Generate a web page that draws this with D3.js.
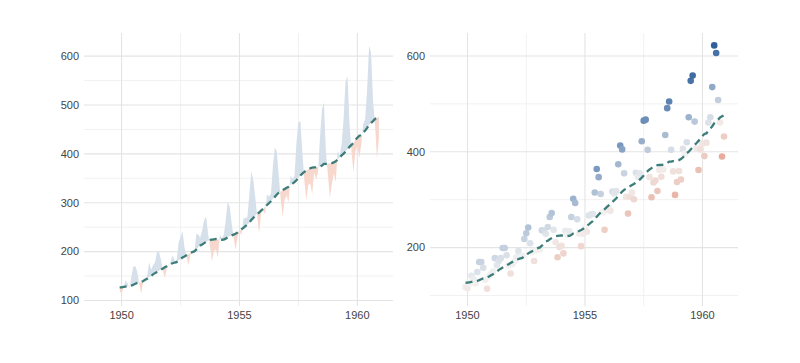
<!DOCTYPE html>
<html lang="en">
<head>
<meta charset="UTF-8">
<script src="https://cdn.jsdelivr.net/npm/d3@7/dist/d3.min.js"></script>
<title>Air passengers</title>
<style>
  body { margin: 0; background: #fff; }
  text { font-family: "Liberation Sans", Arial, sans-serif; }
</style>
</head>
<body>
<svg id="mainsvg" width="800" height="363"></svg>
<script>
// monthly passengers, Jan 1949 .. Dec 1960
const startYear = 1949
const passengers = [
  112, 118, 132, 129, 121, 135, 148, 148, 136, 119, 104, 118,
  115, 126, 141, 135, 125, 149, 170, 170, 158, 133, 114, 140,
  145, 150, 178, 163, 172, 178, 199, 199, 184, 162, 146, 166,
  171, 180, 193, 181, 183, 218, 230, 242, 209, 191, 172, 194,
  196, 196, 236, 235, 229, 243, 264, 272, 237, 211, 180, 201,
  204, 188, 235, 227, 234, 264, 302, 293, 259, 229, 203, 229,
  242, 233, 267, 269, 270, 315, 364, 347, 312, 274, 237, 278,
  284, 277, 317, 313, 318, 374, 413, 405, 355, 306, 271, 306,
  315, 301, 356, 348, 355, 422, 465, 467, 404, 347, 305, 336,
  340, 318, 362, 348, 363, 435, 491, 505, 404, 359, 310, 337,
  360, 342, 406, 396, 420, 472, 548, 559, 463, 407, 362, 405,
  417, 391, 419, 461, 472, 535, 622, 606, 508, 461, 390, 432
]
const xTicks = [1950, 1955, 1960]
const xMinor = [1952.5, 1957.5]
const leftYTicks = [100, 200, 300, 400, 500, 600]
const leftYMinor = [150, 250, 350, 450, 550]
const rightYTicks = [200, 400, 600]
const rightYMinor = [100, 300, 500]

// 12 month trailing mean
const rows = passengers.map((v, i) => ({
  t: startYear + i / 12,
  value: v,
  trend: i >= 11 ? d3.mean(passengers.slice(i - 11, i + 1)) : null
}))
const data = rows.filter(d => d.trend !== null)

const svg = d3.select('#mainsvg')
const panelTop = 33, panelBottom = 306
const panels = [
  { left: 84, right: 393, yDomain: [88.6, 647.4], ticks: leftYTicks, minor: leftYMinor },
  { left: 430, right: 738, yDomain: [78.1, 647.9], ticks: rightYTicks, minor: rightYMinor }
]
const trendColor = '#3c7d7a'
const gridMajor = '#e4e4e4'
const gridMinor = '#eeeeee'

panels.forEach((p, k) => {
  p.x = d3.scaleLinear().domain([1948.404, 1961.513]).range([p.left, p.right])
  p.y = d3.scaleLinear().domain(p.yDomain).range([panelBottom, panelTop])
  const g = svg.append('g')

  // grid
  g.selectAll('.hmin').data(p.minor).join('line')
    .attr('x1', p.left).attr('x2', p.right)
    .attr('y1', d => p.y(d)).attr('y2', d => p.y(d))
    .attr('stroke', gridMinor).attr('stroke-width', 0.8)
  g.selectAll('.vmin').data(xMinor).join('line')
    .attr('y1', panelTop).attr('y2', panelBottom)
    .attr('x1', d => p.x(d)).attr('x2', d => p.x(d))
    .attr('stroke', gridMinor).attr('stroke-width', 0.8)
  g.selectAll('.hmaj').data(p.ticks).join('line')
    .attr('x1', p.left).attr('x2', p.right)
    .attr('y1', d => p.y(d)).attr('y2', d => p.y(d))
    .attr('stroke', gridMajor).attr('stroke-width', 1.1)
  g.selectAll('.vmaj').data(xTicks).join('line')
    .attr('y1', panelTop).attr('y2', panelBottom)
    .attr('x1', d => p.x(d)).attr('x2', d => p.x(d))
    .attr('stroke', gridMajor).attr('stroke-width', 1.1)

  // tick labels
  g.selectAll('.ylab').data(p.ticks).join('text')
    .attr('x', p.left - 5).attr('y', d => p.y(d)).attr('dy', '0.35em')
    .attr('text-anchor', 'end').attr('font-size', 11).attr('fill', '#444')
    .text(d => d)
  g.selectAll('.xlab').data(xTicks).join('text')
    .attr('x', d => p.x(d)).attr('y', 318.5)
    .attr('text-anchor', 'middle').attr('font-size', 11).attr('fill', '#444')
    .text(d => d)
})

// left panel: ribbon between series and trend
const L = panels[0]
const defs = svg.append('defs')
defs.append('clipPath').attr('id', 'above').append('path')
  .attr('d', d3.area().x(d => L.x(d.t)).y0(panelTop - 5).y1(d => L.y(d.trend))(data))
defs.append('clipPath').attr('id', 'below').append('path')
  .attr('d', d3.area().x(d => L.x(d.t)).y0(panelBottom + 5).y1(d => L.y(d.trend))(data))
const ribbon = d3.area().x(d => L.x(d.t)).y0(d => L.y(d.trend)).y1(d => L.y(d.value))
svg.append('path').datum(data).attr('d', ribbon)
  .attr('fill', '#d6e0ea').attr('clip-path', 'url(#above)')
svg.append('path').datum(data).attr('d', ribbon)
  .attr('fill', '#f8d7cd').attr('clip-path', 'url(#below)')

// right panel: points coloured by deviation from trend
const R = panels[1]
const maxDev = d3.max(data, d => Math.abs(d.value - d.trend))
const color = d3.scaleDiverging()
  .domain([-maxDev, 0, maxDev])
  .interpolator(d3.piecewise(d3.interpolateRgb, ['#dc6a4a', '#f3f3f3', '#2f609c']))
svg.append('g').selectAll('circle').data(data).join('circle')
  .attr('cx', d => R.x(d.t)).attr('cy', d => R.y(d.value)).attr('r', 3.3)
  .attr('fill', d => color(d.value - d.trend))

// dashed trend in both panels
panels.forEach(p => {
  svg.append('path').datum(data)
    .attr('d', d3.line().x(d => p.x(d.t)).y(d => p.y(d.trend)))
    .attr('fill', 'none').attr('stroke', trendColor)
    .attr('stroke-width', 2.3).attr('stroke-dasharray', '7,4.5')
})
</script>
</body>
</html>
